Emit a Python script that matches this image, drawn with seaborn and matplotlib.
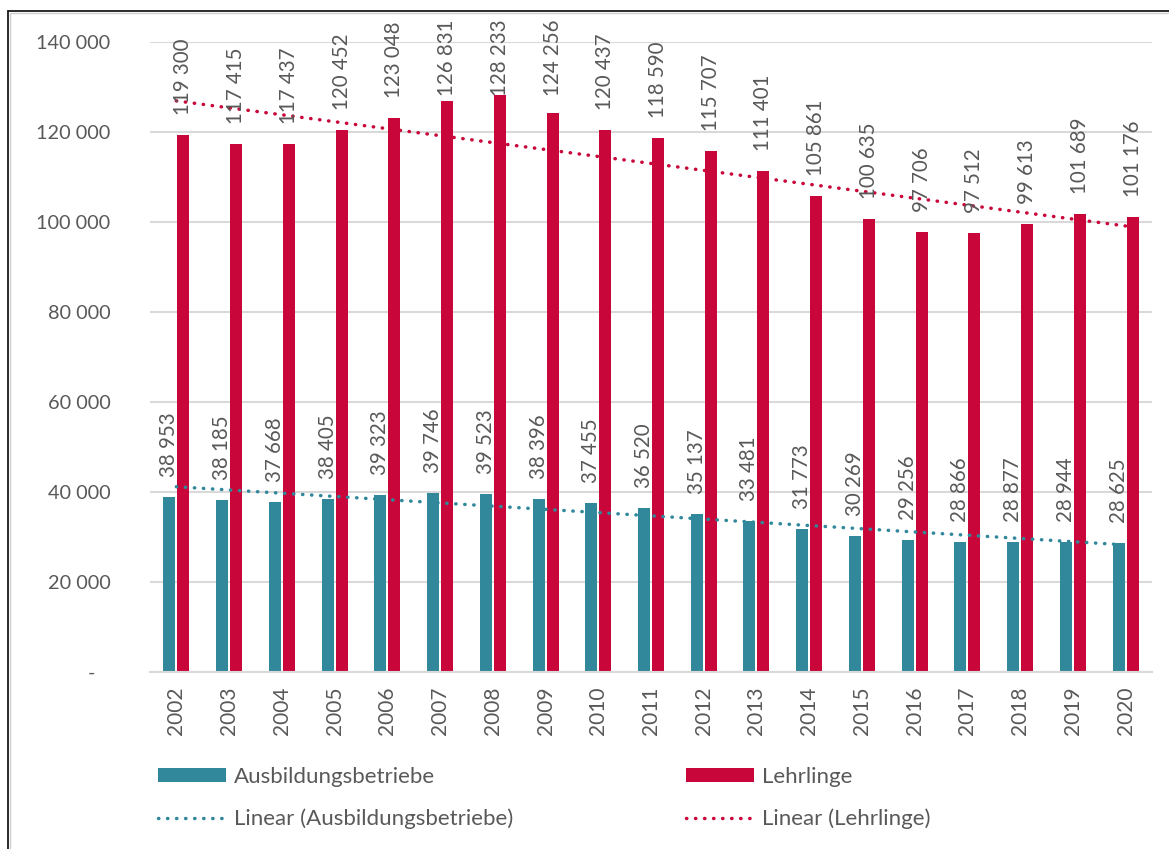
import numpy as np
import pandas as pd
import matplotlib
matplotlib.use("Agg")
import matplotlib.pyplot as plt
import seaborn as sns
from matplotlib.patches import Patch
from matplotlib.lines import Line2D

# ---------------- data ----------------
years = ["2002", "2003", "2004", "2005", "2006", "2007", "2008", "2009", "2010", "2011",
         "2012", "2013", "2014", "2015", "2016", "2017", "2018", "2019", "2020"]
betriebe = [38953, 38185, 37668, 38405, 39323, 39746, 39523, 38396, 37455, 36520,
            35137, 33481, 31773, 30269, 29256, 28866, 28877, 28944, 28625]
lehrlinge = [119300, 117415, 117437, 120452, 123048, 126831, 128233, 124256, 120437, 118590,
             115707, 111401, 105861, 100635, 97706, 97512, 99613, 101689, 101176]
series_names = ["Ausbildungsbetriebe", "Lehrlinge"]
trend_names = ["Linear (Ausbildungsbetriebe)", "Linear (Lehrlinge)"]
y_ticks = [0, 20000, 40000, 60000, 80000, 100000, 120000, 140000]

# ---------------- style ----------------
TEAL = "#31889A"
RED = "#C90639"
TXT = "#595959"
GRID = "#D9D9D9"

sns.set_style("white")
plt.rcParams["font.family"] = ["Lato", "DejaVu Sans"]

df = pd.DataFrame({
    "Jahr": years * 2,
    "Wert": betriebe + lehrlinge,
    "Reihe": [series_names[0]] * len(years) + [series_names[1]] * len(years),
})

W, H, DPI = 1169, 849, 100
fig = plt.figure(figsize=(W / DPI, H / DPI), dpi=DPI)
ax = fig.add_axes([150 / W, 1 - 672 / H, (1152 - 150) / W, (672 - 42) / H])

sns.barplot(data=df, x="Jahr", y="Wert", hue="Reihe", order=years,
            hue_order=series_names, palette=[TEAL, RED], width=0.53, gap=0.14,
            saturation=1, legend=False, ax=ax, edgecolor="none")

# linear trend lines (least squares, like Excel)
xi = np.arange(len(years))
for vals, col in [(betriebe, TEAL), (lehrlinge, RED)]:
    k, d = np.polyfit(xi, vals, 1)
    ax.plot(xi, k * xi + d, color=col, lw=2.5, linestyle=(0, (0.1, 2.5)),
            dash_capstyle="round", zorder=4)

ax.set_ylim(0, 140000)
ax.set_xlim(-0.5, len(years) - 0.5)
ax.set_yticks(y_ticks)
ax.set_yticklabels([("-   " if v == 0 else f"{v:,}".replace(",", " ")) for v in y_ticks])
ax.yaxis.grid(True, color=GRID, linewidth=1.5)
ax.set_axisbelow(True)
for s in ["left", "right", "top"]:
    ax.spines[s].set_visible(False)
ax.spines["bottom"].set_color(GRID)
ax.spines["bottom"].set_linewidth(1.5)
ax.tick_params(axis="y", length=0, pad=28.5, labelsize=14.3, labelcolor=TXT)
ax.tick_params(axis="x", length=0, pad=10.5, labelsize=15, labelcolor=TXT, labelrotation=90)
ax.set_xlabel("")
ax.set_ylabel("")

# data labels
PAD = 14.4  # points (~20 px)
anns = []
for cont, vals in zip(ax.containers, [betriebe, lehrlinge]):
    labs = [f"{v:,}".replace(",", " ") for v in vals]
    a = ax.bar_label(cont, labels=labs, padding=PAD, rotation=90, fontsize=14.8,
                     color=TXT, zorder=5)
    anns.extend(a)

fig.canvas.draw()
renderer = fig.canvas.get_renderer()
limit = H - 20
for ann in anns:
    ann.set_annotation_clip(False)
    bb = ann.get_window_extent(renderer)
    if bb.y1 > limit:
        dy_px = bb.y1 - limit
        x0, y0 = ann.xyann
        ann.xyann = (x0, y0 - dy_px * 72 / DPI)

# legends (two columns)
common = dict(frameon=False, fontsize=16, labelcolor=TXT, handlelength=3.05,
              handletextpad=0.35, handleheight=0.6, labelspacing=1.0,
              borderpad=0, borderaxespad=0, loc="center left")
for i, (col, x0) in enumerate([(TEAL, 158), (RED, 686)]):
    hs = [Patch(facecolor=col, edgecolor="none"),
          Line2D([0], [0], color=col, lw=2.5, linestyle=(0, (0.1, 2.5)),
                 dash_capstyle="round")]
    leg = fig.legend(hs, [series_names[i], trend_names[i]],
                     bbox_to_anchor=(x0 / W, 1 - 798 / H), **common)

# outer frame (top and left edges visible)
fig.add_artist(Line2D([8 / W, 1], [1 - 11 / H, 1 - 11 / H], color="#1a1a1a", lw=1.3,
                      transform=fig.transFigure))
fig.add_artist(Line2D([8 / W, 8 / W], [0, 1 - 11 / H], color="#1a1a1a", lw=1.3,
                      transform=fig.transFigure))
fig.add_artist(Line2D([10 / W, 1], [1 - 13 / H, 1 - 13 / H], color="#d0d0d0", lw=1,
                      transform=fig.transFigure))
fig.add_artist(Line2D([10 / W, 10 / W], [0, 1 - 13 / H], color="#d0d0d0", lw=1,
                      transform=fig.transFigure))

fig.savefig("out.png", dpi=DPI)
